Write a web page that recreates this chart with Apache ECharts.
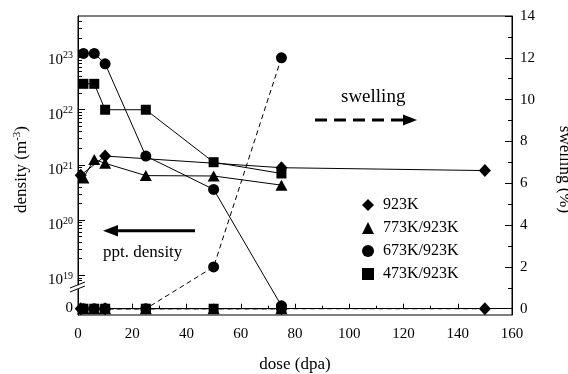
<!DOCTYPE html>
<html>
<head>
<meta charset="utf-8">
<script src="https://cdn.jsdelivr.net/npm/echarts@6.0.0/dist/echarts.min.js"></script>
<style>
  html, body { margin: 0; padding: 0; background: #fff; }
  #chart { width: 568px; height: 374px; }
</style>
</head>
<body>
<div id="chart"></div>
<script>
// data (density in m^-3, swelling in %)
const doses923 = [1, 10, 75, 150]
const dens923 = [6.5e20, 1.45e21, 8.9e20, 7.9e20]
const swell923 = [0, 0, 0, 0]

const doses773 = [2, 6, 10, 25, 50, 75]
const dens773 = [5.8e20, 1.26e21, 1.07e21, 6.4e20, 6.3e20, 4.3e20]
const swell773 = [0, 0, 0, 0, 0, 0]

const doses673 = [2, 6, 10, 25, 50, 75]
const dens673 = [1.05e23, 1.05e23, 6.8e22, 1.45e21, 3.6e20, 0]
const swell673 = [0, 0, 0, 0, 2, 12]

const doses473 = [2, 6, 10, 25, 50, 75]
const dens473 = [2.95e22, 2.95e22, 1e22, 1e22, 1.12e21, 7e20]
const swell473 = [0, 0, 0, 0, 0, 0]

const doseTicks = [0, 20, 40, 60, 80, 100, 120, 140, 160]
const swellTicks = [0, 2, 4, 6, 8, 10, 12, 14]
const densDecades = [19, 20, 21, 22, 23]

const FONT = '"Liberation Serif", "Times New Roman", serif'
const ZERO_POS = 18.447   // where "0" sits below the axis break (log10 units)
const toAxis = v => v > 0 ? Math.log10(v) : ZERO_POS

const leftMajor = [ZERO_POS].concat(densDecades)
const leftMinor = []
for (let n = 18; n <= 23; n++) {
  for (let k = 2; k <= 9; k++) {
    const v = n + Math.log10(k)
    if (v > 18.88 && v < 23.69) leftMinor.push(v)
  }
}
const rightMinor = swellTicks.slice(0, -1).map(v => v + 1)

const densSeries = (name, doses, dens, symbol, size) => ({
  name, type: 'line', xAxisIndex: 0, yAxisIndex: 0,
  data: doses.map((d, i) => [d, toAxis(dens[i])]),
  symbol, symbolSize: size, showSymbol: true,
  lineStyle: { color: '#000', width: 1 },
  itemStyle: { color: '#000' },
  emphasis: { disabled: true }, silent: true, z: 3
})
const swellSeries = (name, doses, sw, symbol, size) => ({
  name: name + ' swelling', type: 'line', xAxisIndex: 0, yAxisIndex: 2,
  data: doses.map((d, i) => [d, sw[i]]),
  symbol, symbolSize: size, showSymbol: true,
  lineStyle: { color: '#000', width: 1, type: [5, 3.5] },
  itemStyle: { color: '#000' },
  emphasis: { disabled: true }, silent: true, z: 2
})

const chart = echarts.init(document.getElementById('chart'))

const option = {
  animation: false,
  backgroundColor: '#fff',
  grid: { left: 78, right: 56, top: 16, bottom: 59, outerBoundsMode: 'none', containLabel: false,
    show: true, borderColor: '#000', borderWidth: 1, backgroundColor: 'transparent' },
  legend: {
    data: [
      { name: '923K', icon: 'diamond' },
      { name: '773K/923K', icon: 'triangle' },
      { name: '673K/923K', icon: 'circle' },
      { name: '473K/923K', icon: 'rect' }
    ],
    orient: 'vertical', left: 362, top: 197, padding: 0,
    itemWidth: 12, itemHeight: 12, itemGap: 7,
    selectedMode: false,
    textStyle: { fontFamily: FONT, fontSize: 16, color: '#000', lineHeight: 16, padding: [0, 0, 0, 4] }
  },
  xAxis: {
    type: 'value', min: 0, max: 160, interval: 20,
    name: 'dose (dpa)', nameLocation: 'middle', nameGap: 41,
    nameTextStyle: { fontFamily: FONT, fontSize: 17, color: '#000' },
    axisLine: { show: true, lineStyle: { color: '#000', width: 1 } },
    axisTick: { show: true, inside: true, length: 5, lineStyle: { color: '#000' } },
    minorTick: { show: true, splitNumber: 2, length: 3, lineStyle: { color: '#000' } },
    axisLabel: { color: '#000', fontFamily: FONT, fontSize: 15, margin: 12,
      customValues: doseTicks },
    splitLine: { show: false }
  },
  yAxis: [
    {
      type: 'value', position: 'left', min: 18.28, max: Math.log10(5e23),
      name: '{a|density (m}{s|-3}{a|)}', nameLocation: 'middle', nameGap: 47,
      nameTextStyle: { color: '#000', padding: [0, 8, 0, 0],
        rich: { a: { fontFamily: FONT, fontSize: 17, color: '#000' },
                s: { fontFamily: FONT, fontSize: 11, color: '#000', padding: [0, 0, 8, 0] } } },
      axisLine: { show: true, lineStyle: { color: '#000', width: 1 } },
      axisTick: { show: true, inside: true, length: 7, customValues: leftMajor, lineStyle: { color: '#000' } },
      axisLabel: {
        customValues: leftMajor, margin: 5, color: '#000', padding: [10, 0, 0, 0],
        formatter: v => Math.abs(v - ZERO_POS) < 0.01 ? '{z|0}' : '{b|10}{s|' + Math.round(v) + '}',
        rich: { b: { fontFamily: FONT, fontSize: 15, color: '#000' },
                z: { fontFamily: FONT, fontSize: 15, color: '#000', padding: [0, 0, 5, 0] },
                s: { fontFamily: FONT, fontSize: 10, color: '#000', padding: [0, 0, 8, 0] } }
      },
      splitLine: { show: false }
    },
    {
      type: 'value', position: 'left', min: 18.28, max: Math.log10(5e23),
      axisLine: { show: false },
      axisTick: { show: true, inside: true, length: 4, customValues: leftMinor, lineStyle: { color: '#000' } },
      axisLabel: { show: false },
      splitLine: { show: false }
    },
    {
      type: 'value', position: 'right', min: -0.3, max: 14,
      name: 'swelling (%)', nameLocation: 'middle', nameGap: 44, nameRotate: -90,
      nameTextStyle: { fontFamily: FONT, fontSize: 17, color: '#000', padding: [0, 0, 0, 8] },
      axisLine: { show: true, lineStyle: { color: '#000', width: 1 } },
      axisTick: { show: true, inside: true, length: 7, customValues: swellTicks, lineStyle: { color: '#000' } },
      axisLabel: { customValues: swellTicks, margin: 8, color: '#000', fontFamily: FONT, fontSize: 15 },
      splitLine: { show: false }
    },
    {
      type: 'value', position: 'right', min: -0.3, max: 14,
      axisLine: { show: false },
      axisTick: { show: true, inside: true, length: 4, customValues: rightMinor, lineStyle: { color: '#000' } },
      axisLabel: { show: false },
      splitLine: { show: false }
    }
  ],
  series: [
    swellSeries('923K', doses923, swell923, 'diamond', [12, 13]),
    swellSeries('773K/923K', doses773, swell773, 'triangle', [12, 11]),
    swellSeries('673K/923K', doses673, swell673, 'circle', 11),
    swellSeries('473K/923K', doses473, swell473, 'rect', 10),
    densSeries('923K', doses923, dens923, 'diamond', [12, 13]),
    densSeries('773K/923K', doses773, dens773, 'triangle', [12, 11]),
    densSeries('673K/923K', doses673, dens673, 'circle', 11),
    densSeries('473K/923K', doses473, dens473, 'rect', 10)
  ],
  graphic: [
    { type: 'text', x: 341, y: 97, z: 50,
      style: { text: 'swelling', font: '19px ' + FONT, fill: '#000', verticalAlign: 'middle' } },
    { type: 'line', z: 50, shape: { x1: 315, y1: 120, x2: 404, y2: 120 },
      style: { stroke: '#000', lineWidth: 3, lineDash: [12, 7] } },
    { type: 'polygon', z: 50, shape: { points: [[403, 114.5], [417, 120], [403, 125.5]] },
      style: { fill: '#000' } },
    { type: 'text', x: 103, y: 253, z: 50,
      style: { text: 'ppt. density', font: '17px ' + FONT, fill: '#000', verticalAlign: 'middle' } },
    { type: 'line', z: 50, shape: { x1: 116, y1: 230.7, x2: 195, y2: 230.7 },
      style: { stroke: '#000', lineWidth: 3 } },
    { type: 'polygon', z: 50, shape: { points: [[103, 230.7], [118, 225], [118, 236.4]] },
      style: { fill: '#000' } },
    // axis break on the density axis
    { type: 'rect', z: 60, shape: { x: 74, y: 285.2, width: 7, height: 3.8 },
      style: { fill: '#fff' } },
    { type: 'line', z: 61, shape: { x1: 70, y1: 288, x2: 85, y2: 282 },
      style: { stroke: '#000', lineWidth: 1 } },
    { type: 'line', z: 61, shape: { x1: 70, y1: 292, x2: 85, y2: 286 },
      style: { stroke: '#000', lineWidth: 1 } }
  ]
}

chart.setOption(option)
</script>
</body>
</html>
